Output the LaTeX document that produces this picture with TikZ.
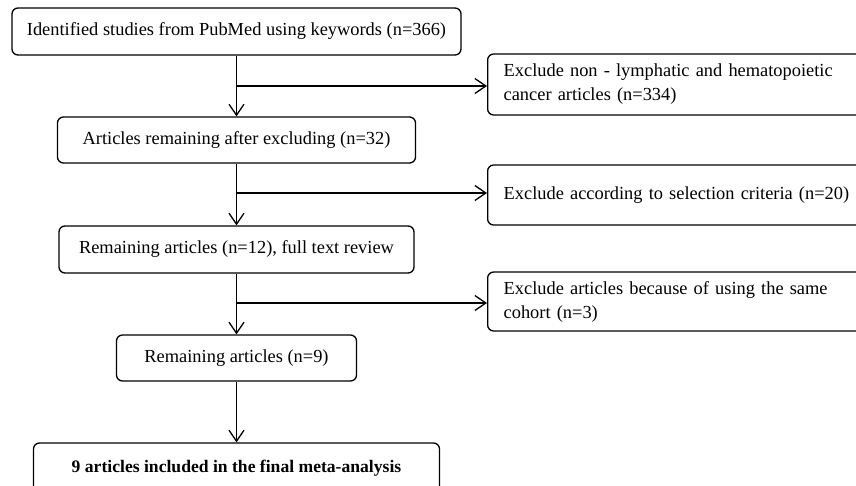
\documentclass[tikz,border=0pt]{standalone}
\usepackage{fontspec}
\setmainfont{Liberation Serif}
\usetikzlibrary{positioning,arrows.meta}

\begin{document}
\begin{tikzpicture}[x=1pt, y=-1pt,
    every node/.style={font=\fontsize{18.4}{24}\selectfont},
    box/.style={draw, line width=1.3pt, rounded corners=6pt, inner sep=0pt, align=center},
    exbox/.style={draw, line width=1.3pt, rounded corners=6pt, anchor=west,
        inner xsep=16pt, inner ysep=0pt, text width=380pt, align=left},
    flow/.style={line width=1.3pt, -{Straight Barb[length=11pt,width=15pt,line width=1.3pt]}}]
    \useasboundingbox (0,0) rectangle (856,485);
    % Main column
    \node[box, minimum width=449pt, minimum height=47pt] (ident) at (236.5,31.5)
        {Identified studies from PubMed using keywords (n=366)};
    \node[box, minimum width=358pt, minimum height=46pt] (remainA) at (236.5,140)
        {Articles remaining after excluding (n=32)};
    \node[box, minimum width=355pt, minimum height=47pt] (remainB) at (236.5,249.5)
        {Remaining articles (n=12), full text review};
    \node[box, minimum width=240pt, minimum height=46pt] (remainC) at (236.5,358)
        {Remaining articles (n=9)};
    \node[box, minimum width=406pt, minimum height=50pt, font=\fontsize{17.6}{24}\selectfont\bfseries] (final) at (236.5,468)
        {9 articles included in the final meta-analysis};
    % Exclusions
    \node[exbox, minimum height=61pt] (exA) at (487,84.5)
        {Exclude non - lymphatic and hematopoietic\\cancer articles (n=334)};
    \node[exbox, minimum height=60pt] (exB) at (487,195)
        {Exclude according to selection criteria (n=20)};
    \node[exbox, minimum height=59pt] (exC) at (487,301.5)
        {Exclude articles because of using the same\\cohort (n=3)};
    % Arrows
    \draw[flow] (ident) -- (remainA);
    \draw[flow] (remainA) -- (remainB);
    \draw[flow] (remainB) -- (remainC);
    \draw[flow] (remainC) -- (final);
    \coordinate (brA) at (236.5,86);
    \coordinate (brB) at (236.5,193);
    \coordinate (brC) at (236.5,303);
    \draw[flow] (brA) -- (brA -| exA.west);
    \draw[flow] (brB) -- (brB -| exB.west);
    \draw[flow] (brC) -- (brC -| exC.west);
\end{tikzpicture}
\end{document}
